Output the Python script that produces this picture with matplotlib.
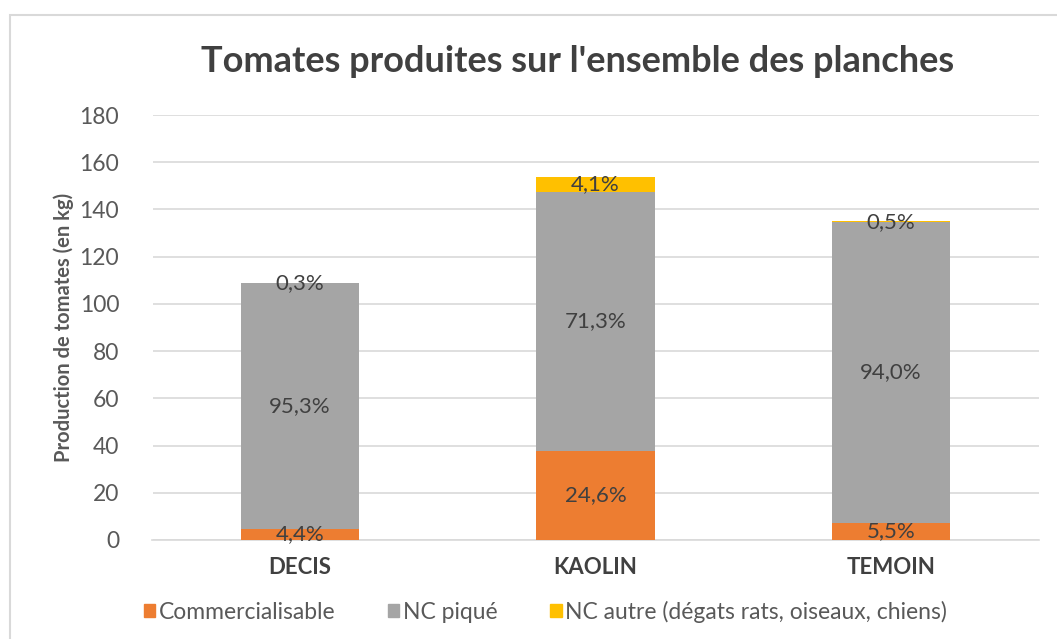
import matplotlib
matplotlib.use("Agg")
import matplotlib.pyplot as plt
from matplotlib.patches import Patch, Rectangle
import numpy as np

categories = ["DECIS", "KAOLIN", "TEMOIN"]
series_names = ["Commercialisable", "NC piqué", "NC autre (dégats rats, oiseaux, chiens)"]
commercialisable = [4.8, 37.8, 7.4]
nc_pique = [103.9, 109.6, 127.1]
nc_autre = [0.33, 6.3, 0.7]
labels_comm = ["4,4%", "24,6%", "5,5%"]
labels_pique = ["95,3%", "71,3%", "94,0%"]
labels_autre = ["0,3%", "4,1%", "0,5%"]
yticks = [0, 20, 40, 60, 80, 100, 120, 140, 160, 180]

colors = ["#ED7D31", "#A5A5A5", "#FFC000"]
txt = "#595959"
dark = "#404040"

plt.rcParams['font.family'] = ['Lato', 'DejaVu Sans']

fig = plt.figure(figsize=(10.57, 6.39), dpi=100)
fig.patches.append(Rectangle((10/1057, -0.05), 1.1, 1 - 15/639 + 0.05, transform=fig.transFigure,
                             fill=False, edgecolor="#D9D9D9", linewidth=1.5))
ax = fig.add_axes([152.5/1057, 1 - 540/639, 886/1057, 425/639])

x = np.arange(len(categories))
w = 0.4
series = [commercialisable, nc_pique, nc_autre]
labels = [labels_comm, labels_pique, labels_autre]
bottom = np.zeros(len(categories))
for vals, col, labs, name in zip(series, colors, labels, series_names):
    vals = np.array(vals)
    ax.bar(x, vals, w, bottom=bottom, color=col, label=name, zorder=3)
    for xi, b, v, lab in zip(x, bottom, vals, labs):
        ax.text(xi, b + v / 2, lab, ha="center", va="center", fontsize=16,
                color=dark, zorder=4)
    bottom = bottom + vals

ax.set_xlim(-0.5, 2.5)
ax.set_ylim(0, 180)
ax.set_yticks(yticks)
ax.set_yticklabels([str(t) for t in yticks], fontsize=16.5, color=txt)
ax.set_xticks(x)
ax.set_xticklabels(categories, fontsize=16, fontweight="bold", color=dark)
ax.tick_params(axis="y", length=0, pad=24)
ax.tick_params(axis="x", length=0, pad=12)
ax.grid(axis="y", color="#D9D9D9", linewidth=1.2, zorder=0)
for s in ax.spines.values():
    s.set_visible(False)
ax.spines["bottom"].set_visible(True)
ax.spines["bottom"].set_color("#D9D9D9")
ax.spines["bottom"].set_linewidth(1.2)

ax.set_ylabel("Production de tomates (en kg)", fontsize=14.5, fontweight="bold", color=txt, labelpad=4)

fig.text(0.546, 1 - 62/639, "Tomates produites sur l'ensemble des planches", ha="center", va="center",
         fontsize=26, fontweight="bold", color=dark)

handles = [Patch(color=c) for c in colors]
fig.legend(handles, series_names, loc="center", bbox_to_anchor=(0.516, 1 - 612/639), ncol=3,
           frameon=False, fontsize=16.5, handlelength=0.5, handleheight=0.5, handletextpad=0.15,
           columnspacing=2.3, labelcolor=txt)

fig.savefig("out.png", dpi=100)
